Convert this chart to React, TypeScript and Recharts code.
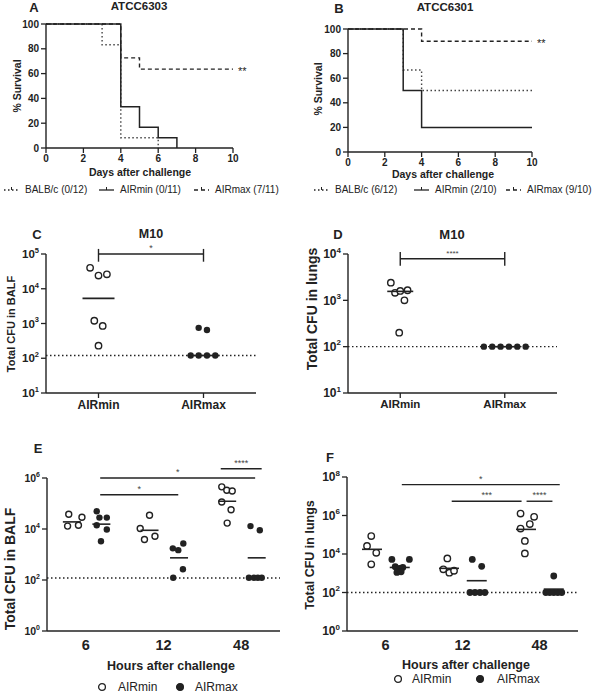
import React from 'react';
import { LineChart, Line, XAxis, YAxis, ScatterChart, Scatter, ReferenceLine, ReferenceDot } from 'recharts';

const FONT = '"Liberation Sans", Arial, Helvetica, sans-serif';
const INK = '#222';

// ---------- Panel A / B: survival ----------
const DAY_TICKS = [0, 2, 4, 6, 8, 10];
const SURV_TICKS = [0, 20, 40, 60, 80, 100];

const A_BALBC_DAYS = [0, 3, 4, 6];
const A_BALBC_SURV = [100, 83.3, 8.3, 0];
const A_MIN_DAYS = [0, 4, 5, 6, 7];
const A_MIN_SURV = [100, 33.3, 16.7, 8.3, 0];
const A_MAX_DAYS = [0, 4, 5, 10];
const A_MAX_SURV = [100, 72.7, 63.6, 63.6];

const B_BALBC_DAYS = [0, 3, 4, 10];
const B_BALBC_SURV = [100, 66.7, 50, 50];
const B_MIN_DAYS = [0, 3, 4, 10];
const B_MIN_SURV = [100, 50, 20, 20];
const B_MAX_DAYS = [0, 4, 10];
const B_MAX_SURV = [100, 90, 90];

// ---------- Panel C / D: M10 ----------
const M10_GROUPS = ['AIRmin', 'AIRmax'];
const C_MIN = [40000, 24000, 26000, 1200, 850, 230];
const C_MIN_JIT = [-0.08, 0, 0.08, -0.04, 0.04, 0];
const C_MAX = [750, 650, 120, 120, 120, 120];
const C_MAX_JIT = [-0.046, 0.033, -0.122, -0.046, 0.033, 0.112];
const C_MEANS = [5300, 120];
const C_LOD = 120;

const D_MIN = [2400, 1450, 1600, 1650, 1000, 200];
const D_MIN_JIT = [-0.09, -0.05, 0, 0.07, 0.04, -0.01];
const D_MAX = [100, 100, 100, 100, 100, 100];
const D_MAX_JIT = [-0.2, -0.12, -0.04, 0.04, 0.12, 0.2];
const D_MEANS = [1560, 100];
const D_LOD = 100;

// ---------- Panel E / F: time course ----------
const HOURS = ['6', '12', '48'];

const E_MIN = [
  [38000, 29000, 13000, 14000],
  [34600, 10500, 3900, 5200],
  [450000, 330000, 310000, 115000, 57000, 17000],
];
const E_MIN_JIT = [
  [-0.22, -0.05, -0.235, -0.095],
  [-0.18, -0.3, -0.245, -0.11],
  [-0.25, -0.185, -0.115, -0.25, -0.13, -0.18],
];
const E_MAX = [
  [50000, 28000, 28000, 14000, 9600, 3300],
  [1740, 1480, 2700, 263, 123],
  [13000, 8900, 123, 123, 123, 123],
];
const E_MAX_JIT = [
  [0.14, 0.175, 0.27, 0.14, 0.27, 0.195],
  [0.12, 0.19, 0.255, 0.25, 0.125],
  [0.12, 0.24, 0.1, 0.165, 0.215, 0.265],
];
const E_MIN_MEANS = [19000, 8900, 123000];
const E_MAX_MEANS = [15500, 740, 740];
const E_LOD = 120;

const F_MIN = [
  [85000, 26000, 11500, 2900],
  [5900, 1600, 1070, 1350],
  [1260000, 850000, 360000, 210000, 48000, 10700],
];
const F_MIN_JIT = [
  [-0.185, -0.24, -0.12, -0.185],
  [-0.197, -0.249, -0.171, -0.11],
  [-0.246, -0.07, -0.126, -0.246, -0.19, -0.19],
];
const F_MAX = [
  [5200, 5200, 2200, 1800, 2000, 1200, 1100],
  [5200, 2300, 100, 100, 100, 100],
  [720, 100, 100, 100, 100, 100],
];
const F_MAX_JIT = [
  [0.083, 0.31, 0.126, 0.18, 0.225, 0.203, 0.148],
  [0.127, 0.249, 0.097, 0.162, 0.227, 0.291],
  [0.185, 0.082, 0.133, 0.185, 0.237, 0.289],
];
const F_MIN_MEANS = [17500, 1800, 190000];
const F_MAX_MEANS = [2000, 410, 150];
const F_LOD = 100;

// significance bars
const C_SIG = { x1: 0.5, x2: 1.5, y: 100000, lo: 60000, hi: 140000, label: '*' };
const D_SIG = { x1: 0.5, x2: 1.5, y: 7900, lo: 5600, hi: 11000, label: '****' };
const E_SIG = [
  { x1: 0.685, x2: 2.68, y: 1000000, label: '*' },
  { x1: 0.685, x2: 1.69, y: 220000, label: '*' },
  { x1: 2.237, x2: 2.764, y: 2300000, label: '****' },
];
const F_SIG = [
  { x1: 0.712, x2: 2.763, y: 40000000, label: '*' },
  { x1: 1.36, x2: 2.267, y: 5500000, label: '***' },
  { x1: 2.332, x2: 2.668, y: 5500000, label: '****' },
];

// ---------- helpers ----------
const zip = (xs: number[], ys: number[]) => xs.map((x, i) => ({ x, y: ys[i] }));
const pts = (vals: number[], jit: number[], center: number) =>
  vals.map((v, i) => ({ x: center + jit[i], y: v }));

const openDot = (r: number) => (p: any) => (
  <circle cx={p.cx} cy={p.cy} r={r} fill="#fff" stroke={INK} strokeWidth={1.4} />
);
const fillDot = (r: number) => (p: any) => <circle cx={p.cx} cy={p.cy} r={r} fill={INK} />;
const bar = (hw: number) => (p: any) => (
  <line x1={p.cx - hw} x2={p.cx + hw} y1={p.cy} y2={p.cy} stroke={INK} strokeWidth={1.6} />
);

const PowTick = (props: any) => {
  const { x, y, payload, fs, sup } = props;
  const e = Math.round(Math.log10(payload.value));
  return (
    <text x={x} y={y} textAnchor="end" fill={INK} fontFamily={FONT} fontWeight="bold" fontSize={fs} dy="0.35em">
      10
      <tspan dy={-fs * 0.45} fontSize={sup}>
        {e}
      </tspan>
    </text>
  );
};

const T = ({ x, y, size = 11, weight = 'bold', rotate = false, anchor = 'middle', children }: any) => (
  <div
    style={{
      position: 'absolute',
      left: x,
      top: y,
      transform:
        (anchor === 'middle' ? 'translate(-50%,-50%)' : 'translate(0,-50%)') + (rotate ? ' rotate(-90deg)' : ''),
      fontFamily: FONT,
      fontSize: size,
      fontWeight: weight,
      color: INK,
      whiteSpace: 'nowrap',
      lineHeight: 1,
    }}
  >
    {children}
  </div>
);

const LegendLine = ({ x, y, dash, label, gap = 6 }: any) => (
  <div
    style={{
      position: 'absolute',
      left: x,
      top: y,
      transform: 'translateY(-50%)',
      display: 'flex',
      alignItems: 'center',
      fontFamily: FONT,
      fontSize: 10,
      color: INK,
      whiteSpace: 'nowrap',
      lineHeight: 1,
    }}
  >
    <svg width={15} height={8} style={{ marginRight: gap }}>
      <line x1={0} x2={15} y1={4} y2={4} stroke={INK} strokeWidth={1.3} strokeDasharray={dash} />
      <line x1={7.5} x2={7.5} y1={1} y2={4} stroke={INK} strokeWidth={1} />
    </svg>
    {label}
  </div>
);

const LegendDot = ({ x, y, filled, label, tx }: any) => (
  <>
    <svg width={10} height={10} style={{ position: 'absolute', left: x - 5, top: y - 5 }}>
      <circle cx={5} cy={5} r={3.4} fill={filled ? INK : '#fff'} stroke={INK} strokeWidth={1.3} />
    </svg>
    <T x={tx} y={y} size={12} weight="normal" anchor="start">
      {label}
    </T>
  </>
);

const axisLine = { stroke: INK, strokeWidth: 1.4 };
const tickLine = { stroke: INK, strokeWidth: 1.3 };
const DOTTED = '1.5 2.5';
const DASHED = '4 3';

const StarLabel = (props: any) => {
  const { viewBox } = props;
  const cx = viewBox ? viewBox.x + (viewBox.width || 0) : 0;
  const cy = viewBox ? viewBox.y + (viewBox.height || 0) / 2 : 0;
  return (
    <text x={cx + 5} y={cy} dy="0.55em" fill={INK} fontSize={11} fontFamily={FONT} textAnchor="start">
      **
    </text>
  );
};

// ---------- Survival chart ----------
const Survival = ({ balbc, amin, amax, margin, yw, star }: any) => (
  <LineChart width={300} height={200} margin={margin}>
    <XAxis
      type="number"
      dataKey="x"
      domain={[0, 10]}
      ticks={DAY_TICKS}
      height={20}
      axisLine={axisLine}
      tickLine={tickLine}
      tickSize={5}
      tick={{ fill: INK, fontSize: 10, fontWeight: 'bold', fontFamily: FONT }}
      allowDuplicatedCategory={false}
    />
    <YAxis
      type="number"
      dataKey="y"
      domain={[0, 100]}
      ticks={SURV_TICKS}
      width={yw}
      axisLine={axisLine}
      tickLine={tickLine}
      tickSize={5}
      tick={{ fill: INK, fontSize: 10, fontWeight: 'bold', fontFamily: FONT }}
    />
    <Line data={balbc} dataKey="y" type="stepAfter" stroke="#444" strokeWidth={1.4} strokeDasharray={DOTTED} dot={false} isAnimationActive={false} />
    <Line data={amin} dataKey="y" type="stepAfter" stroke={INK} strokeWidth={1.5} dot={false} isAnimationActive={false} />
    <Line data={amax} dataKey="y" type="stepAfter" stroke={INK} strokeWidth={1.4} strokeDasharray={DASHED} dot={false} isAnimationActive={false} />
    <ReferenceDot
      x={10}
      y={star}
      r={0.1}
      fill="none"
      stroke="none"
      ifOverflow="visible"
      label={<StarLabel />}
    />
  </LineChart>
);

// ---------- Scatter helpers ----------
const sigLines = (sigs: any[], fs: number) =>
  sigs.map((s, i) => (
    <ReferenceLine
      key={'sig' + i}
      segment={[
        { x: s.x1, y: s.y },
        { x: s.x2, y: s.y },
      ]}
      stroke={INK}
      strokeWidth={1.4}
      ifOverflow="visible"
      label={{ value: s.label, position: 'top', offset: 3, fill: '#444', fontSize: fs, fontFamily: FONT }}
    />
  ));

const bracketEnds = (s: any) =>
  [s.x1, s.x2].map((x, i) => (
    <ReferenceLine
      key={'end' + i}
      segment={[
        { x, y: s.lo },
        { x, y: s.hi },
      ]}
      stroke={INK}
      strokeWidth={1.4}
      ifOverflow="visible"
    />
  ));

const App = () => {
  const aB = zip(A_BALBC_DAYS, A_BALBC_SURV);
  const aMin = zip(A_MIN_DAYS, A_MIN_SURV);
  const aMax = zip(A_MAX_DAYS, A_MAX_SURV);
  const bB = zip(B_BALBC_DAYS, B_BALBC_SURV);
  const bMin = zip(B_MIN_DAYS, B_MIN_SURV);
  const bMax = zip(B_MAX_DAYS, B_MAX_SURV);

  const cMin = pts(C_MIN, C_MIN_JIT, 0.5);
  const cMax = pts(C_MAX, C_MAX_JIT, 1.5);
  const cMeans = C_MEANS.map((v, i) => ({ x: i + 0.5, y: v }));
  const dMin = pts(D_MIN, D_MIN_JIT, 0.5);
  const dMax = pts(D_MAX, D_MAX_JIT, 1.5);
  const dMeans = D_MEANS.map((v, i) => ({ x: i + 0.5, y: v }));

  const eMin = E_MIN.flatMap((vals, g) => pts(vals, E_MIN_JIT[g], g + 0.5));
  const eMax = E_MAX.flatMap((vals, g) => pts(vals, E_MAX_JIT[g], g + 0.5));
  const eMinMeans = E_MIN_MEANS.map((v, g) => ({ x: g + 0.5 - 0.18, y: v }));
  const eMaxMeans = E_MAX_MEANS.map((v, g) => ({ x: g + 0.5 + 0.2, y: v }));

  const fMin = F_MIN.flatMap((vals, g) => pts(vals, F_MIN_JIT[g], g + 0.5));
  const fMax = F_MAX.flatMap((vals, g) => pts(vals, F_MAX_JIT[g], g + 0.5));
  const fMinMeans = F_MIN_MEANS.map((v, g) => ({ x: g + 0.5 - 0.175, y: v }));
  const fMaxMeans = F_MAX_MEANS.map((v, g) => ({ x: g + 0.5 + 0.185, y: v }));

  const catTick = (fs: number) => ({ fill: INK, fontSize: fs, fontWeight: 'bold', fontFamily: FONT });

  return (
    <div
      style={{
        position: 'absolute',
        left: 0,
        top: 0,
        width: 600,
        height: 696,
        background: '#fff',
        overflow: 'hidden',
        fontFamily: FONT,
      }}
    >
      {/* Panel A */}
      <div style={{ position: 'absolute', left: 0, top: 0 }}>
        <Survival balbc={aB} amin={aMin} amax={aMax} margin={{ top: 24, right: 67, left: 0, bottom: 32 }} yw={46} star={63.6} />
      </div>
      <T x={34} y={7} size={13}>A</T>
      <T x={139} y={7} size={11.5}>ATCC6303</T>
      <T x={17} y={86} size={10.5} rotate>% Survival</T>
      <T x={140} y={172} size={10.5}>Days after challenge</T>
      <LegendLine x={4} y={190} dash={DOTTED} label="BALB/c (0/12)" />
      <LegendLine x={99} y={190} dash={undefined} label="AIRmin (0/11)" />
      <LegendLine x={194} y={190} dash={DASHED} label="AIRmax (7/11)" />

      {/* Panel B */}
      <div style={{ position: 'absolute', left: 300, top: 0 }}>
        <Survival balbc={bB} amin={bMin} amax={bMax} margin={{ top: 29, right: 68, left: 0, bottom: 28 }} yw={48} star={90} />
      </div>
      <T x={339} y={8} size={13}>B</T>
      <T x={445} y={8} size={11.5}>ATCC6301</T>
      <T x={318} y={89} size={10.5} rotate>% Survival</T>
      <T x={443} y={174} size={10.5}>Days after challenge</T>
      <LegendLine x={314} y={190} dash={DOTTED} label="BALB/c (6/12)" />
      <LegendLine x={414} y={190} dash={undefined} label="AIRmin (2/10)" />
      <LegendLine x={506} y={190} dash={DASHED} label="AIRmax (9/10)" />

      {/* Panel C */}
      <div style={{ position: 'absolute', left: 0, top: 220 }}>
        <ScatterChart width={300} height={210} margin={{ top: 34, right: 44, left: 0, bottom: 7 }}>
          <XAxis
            type="number"
            dataKey="x"
            domain={[0, 2]}
            ticks={[0.5, 1.5]}
            tickFormatter={(v: number) => M10_GROUPS[Math.floor(v)]}
            height={30}
            axisLine={axisLine}
            tickLine={tickLine}
            tickSize={5}
            tick={catTick(12)}
          />
          <YAxis
            type="number"
            dataKey="y"
            scale="log"
            domain={[10, 100000]}
            ticks={[10, 100, 1000, 10000, 100000]}
            allowDataOverflow
            width={46}
            axisLine={axisLine}
            tickLine={tickLine}
            tickSize={5}
            tick={(p: any) => <PowTick {...p} fs={11.5} sup={7.5} />}
          />
          <ReferenceLine y={C_LOD} stroke={INK} strokeWidth={1.3} strokeDasharray={DOTTED} />
          <Scatter data={cMin} shape={openDot(3.2)} isAnimationActive={false} />
          <Scatter data={cMax} shape={fillDot(3.2)} isAnimationActive={false} />
          <Scatter data={cMeans} shape={bar(16)} isAnimationActive={false} />
          {sigLines([C_SIG], 9)}
          {bracketEnds(C_SIG)}
        </ScatterChart>
      </div>
      <T x={37} y={234} size={13}>C</T>
      <T x={151} y={234} size={12.5}>M10</T>
      <T x={11} y={324} size={11} rotate>Total CFU in BALF</T>

      {/* Panel D */}
      <div style={{ position: 'absolute', left: 300, top: 220 }}>
        <ScatterChart width={300} height={210} margin={{ top: 34, right: 43, left: 0, bottom: 7 }}>
          <XAxis
            type="number"
            dataKey="x"
            domain={[0, 2]}
            ticks={[0.5, 1.5]}
            tickFormatter={(v: number) => M10_GROUPS[Math.floor(v)]}
            height={30}
            axisLine={axisLine}
            tickLine={tickLine}
            tickSize={5}
            tick={catTick(11.5)}
          />
          <YAxis
            type="number"
            dataKey="y"
            scale="log"
            domain={[10, 10000]}
            ticks={[10, 100, 1000, 10000]}
            allowDataOverflow
            width={48}
            axisLine={axisLine}
            tickLine={tickLine}
            tickSize={5}
            tick={(p: any) => <PowTick {...p} fs={12} sup={8} />}
          />
          <ReferenceLine y={D_LOD} stroke={INK} strokeWidth={1.3} strokeDasharray={DOTTED} />
          <Scatter data={dMin} shape={openDot(3.2)} isAnimationActive={false} />
          <Scatter data={dMax} shape={fillDot(3.2)} isAnimationActive={false} />
          <Scatter data={dMeans} shape={bar(13)} isAnimationActive={false} />
          {sigLines([D_SIG], 8)}
          {bracketEnds(D_SIG)}
        </ScatterChart>
      </div>
      <T x={338} y={234} size={13}>D</T>
      <T x={452} y={234} size={13}>M10</T>
      <T x={312} y={309} size={14} rotate>Total CFU in lungs</T>

      {/* Panel E */}
      <div style={{ position: 'absolute', left: 0, top: 450 }}>
        <ScatterChart width={300} height={246} margin={{ top: 28, right: 20, left: 0, bottom: 35 }}>
          <XAxis
            type="number"
            dataKey="x"
            domain={[0, 3]}
            ticks={[0.5, 1.5, 2.5]}
            tickFormatter={(v: number) => HOURS[Math.floor(v)]}
            height={30}
            axisLine={axisLine}
            tickLine={false}
            tickSize={6}
            tickMargin={3}
            tick={catTick(14.5)}
          />
          <YAxis
            type="number"
            dataKey="y"
            scale="log"
            domain={[1, 1000000]}
            ticks={[1, 100, 10000, 1000000]}
            allowDataOverflow
            width={47}
            axisLine={axisLine}
            tickLine={tickLine}
            tickSize={5}
            tick={(p: any) => <PowTick {...p} fs={10.5} sup={7} />}
          />
          <ReferenceLine y={E_LOD} stroke={INK} strokeWidth={1.3} strokeDasharray={DOTTED} />
          <Scatter data={eMin} shape={openDot(3)} isAnimationActive={false} />
          <Scatter data={eMax} shape={fillDot(3.2)} isAnimationActive={false} />
          <Scatter data={eMinMeans} shape={bar(9)} isAnimationActive={false} />
          <Scatter data={eMaxMeans} shape={bar(9)} isAnimationActive={false} />
          {sigLines(E_SIG, 9)}
        </ScatterChart>
      </div>
      <T x={38} y={448} size={13}>E</T>
      <T x={10} y={569} size={14} rotate>Total CFU in BALF</T>
      <T x={171} y={666} size={12.5}>Hours after challenge</T>
      <LegendDot x={102} y={687} filled={false} label="AIRmin" tx={118} />
      <LegendDot x={180} y={687} filled label="AIRmax" tx={195} />

      {/* Panel F */}
      <div style={{ position: 'absolute', left: 300, top: 450 }}>
        <ScatterChart width={300} height={246} margin={{ top: 27, right: 22, left: 0, bottom: 35 }}>
          <XAxis
            type="number"
            dataKey="x"
            domain={[0, 3]}
            ticks={[0.5, 1.5, 2.5]}
            tickFormatter={(v: number) => HOURS[Math.floor(v)]}
            height={30}
            axisLine={axisLine}
            tickLine={false}
            tickSize={6}
            tickMargin={3}
            tick={catTick(14.5)}
          />
          <YAxis
            type="number"
            dataKey="y"
            scale="log"
            domain={[1, 100000000]}
            ticks={[1, 100, 10000, 1000000, 100000000]}
            allowDataOverflow
            width={47}
            axisLine={axisLine}
            tickLine={tickLine}
            tickSize={5}
            tick={(p: any) => <PowTick {...p} fs={12} sup={8} />}
          />
          <ReferenceLine y={F_LOD} stroke={INK} strokeWidth={1.3} strokeDasharray={DOTTED} />
          <Scatter data={fMin} shape={openDot(3.2)} isAnimationActive={false} />
          <Scatter data={fMax} shape={fillDot(3.4)} isAnimationActive={false} />
          <Scatter data={fMinMeans} shape={bar(10)} isAnimationActive={false} />
          <Scatter data={fMaxMeans} shape={bar(10)} isAnimationActive={false} />
          {sigLines(F_SIG, 9)}
        </ScatterChart>
      </div>
      <T x={330} y={457} size={13}>F</T>
      <T x={310} y={555} size={12.5} rotate>Total CFU in lungs</T>
      <T x={466} y={665} size={12.5}>Hours after challenge</T>
      <LegendDot x={398} y={679} filled={false} label="AIRmin" tx={412} />
      <LegendDot x={480} y={679} filled label="AIRmax" tx={497} />
    </div>
  );
};

export default App;
